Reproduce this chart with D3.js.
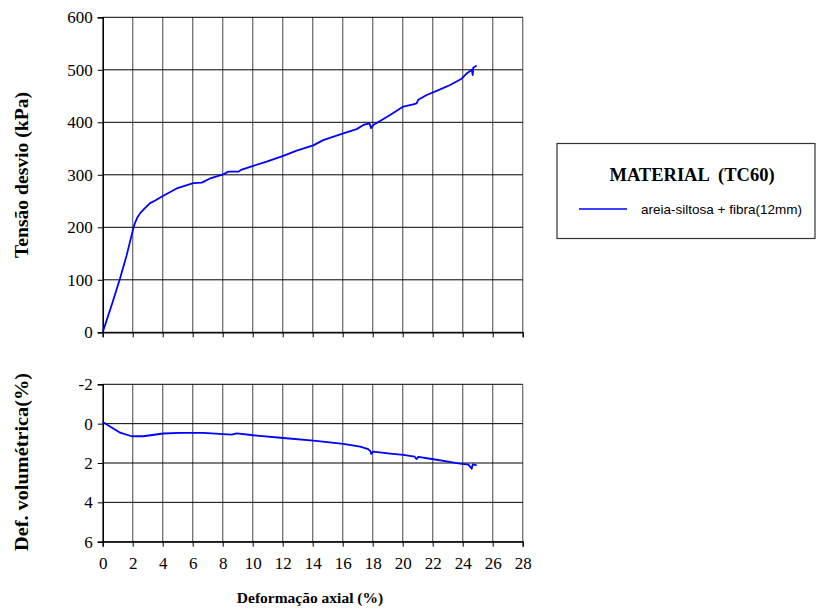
<!DOCTYPE html>
<html>
<head>
<meta charset="utf-8">
<script src="https://cdn.jsdelivr.net/npm/d3@7"></script>
<style>
  body { margin: 0; background: #fff; }
  svg { display: block; }
</style>
</head>
<body>
<svg id="chart" width="817" height="611"></svg>
<script>
// Axial strain (%) and deviator stress (kPa)
const strainStress = [0, 0.6, 1.16, 1.6, 2.04, 2.15, 2.3, 2.5, 2.7, 2.9, 3.16, 3.5, 4.04, 4.93, 6.04, 6.6, 7.16, 8.04, 8.38, 9.04, 9.27, 10.04, 10.93, 12.04, 12.93, 14.04, 14.7, 16.04, 16.93, 17.38, 17.78, 17.9, 18.04, 19.16, 20.04, 20.7, 20.93, 21.04, 21.6, 22.27, 23.16, 23.93, 24.27, 24.6, 24.67, 24.7, 24.93];
const stress = [0, 52, 103, 147, 198, 208, 218, 227, 233, 239, 246, 251, 260, 274, 284, 285, 293, 301, 306, 306, 310, 317, 325, 336, 346, 356, 366, 379, 387, 395, 398, 389, 395, 414, 430, 434, 436, 443, 452, 460, 471, 483, 493, 500, 490, 504, 508];

// Axial strain (%) and volumetric strain (%)
const strainVol = [0, 0.49, 1.16, 1.93, 2.7, 4.04, 5.16, 6.7, 8.04, 8.6, 8.93, 10.04, 12.04, 14.04, 16.04, 17.16, 17.7, 17.87, 17.9, 18.04, 19.16, 20.04, 20.8, 20.93, 21.04, 22.04, 22.93, 23.82, 24.38, 24.6, 24.67, 24.93];
const volStrain = [-0.08, 0.15, 0.46, 0.64, 0.64, 0.5, 0.47, 0.47, 0.53, 0.56, 0.49, 0.59, 0.73, 0.86, 1.03, 1.17, 1.29, 1.42, 1.54, 1.42, 1.52, 1.59, 1.68, 1.8, 1.69, 1.81, 1.92, 2.03, 2.08, 2.29, 2.07, 2.12];

const xTicks = [0, 2, 4, 6, 8, 10, 12, 14, 16, 18, 20, 22, 24, 26, 28];
const stressTicks = [0, 100, 200, 300, 400, 500, 600];
const volTicks = [-2, 0, 2, 4, 6];

const legendTitle = "MATERIAL  (TC60)";
const seriesName = "areia-siltosa + fibra(12mm)";
const xTitle = "Deformação axial (%)";
const stressTitle = "Tensão desvio (kPa)";
const volTitle = "Def. volumétrica(%)";

const svg = d3.select("#chart");
const serif = "'Liberation Serif', 'Times New Roman', serif";
const sans = "'Liberation Sans', Arial, sans-serif";
const lineColor = "#0000ff";
const tickFont = 17;

const left = 102.7, right = 522.7;
const x = d3.scaleLinear().domain([0, 28]).range([left, right]);

function panel(yDomain, yRange, ticks, xs, ys, showXLabels) {
  const y = d3.scaleLinear().domain(yDomain).range(yRange);
  const g = svg.append("g");
  const top = Math.min(...yRange), bottom = Math.max(...yRange);

  // vertical grid lines (grey)
  g.selectAll(".vg").data(xTicks.filter(d => d > 0)).enter().append("line")
    .attr("x1", d => x(d)).attr("x2", d => x(d))
    .attr("y1", top).attr("y2", bottom)
    .attr("stroke", "#707070").attr("stroke-width", 1.3);

  // horizontal grid lines (black)
  g.selectAll(".hg").data(ticks).enter().append("line")
    .attr("x1", left).attr("x2", right)
    .attr("y1", d => y(d)).attr("y2", d => y(d))
    .attr("stroke", "#000").attr("stroke-width", 1);

  // y axis
  const yAxis = d3.axisLeft(y).tickValues(ticks).tickSize(5).tickPadding(5)
    .tickFormat(d => String(d));
  const ya = g.append("g").attr("transform", `translate(${left},0)`).call(yAxis);
  ya.attr("font-family", null).attr("font-size", null);
  ya.select(".domain").attr("stroke", "#000").attr("stroke-width", 1.6);
  ya.selectAll(".tick line").attr("stroke", "#000");
  ya.selectAll("text").style("font-family", serif).style("font-size", tickFont + "px").attr("fill", "#000");

  // x axis
  const xAxis = d3.axisBottom(x).tickValues(xTicks).tickSize(5).tickPadding(10)
    .tickFormat(d => showXLabels ? String(d) : "");
  const xa = g.append("g").attr("transform", `translate(0,${bottom})`).call(xAxis);
  xa.attr("font-family", null).attr("font-size", null);
  xa.select(".domain").attr("stroke", "#000").attr("stroke-width", 1.2);
  xa.selectAll(".tick line").attr("stroke", "#000");
  xa.selectAll("text").style("font-family", serif).style("font-size", tickFont + "px").attr("fill", "#000");

  const line = d3.line().x((d, i) => x(xs[i])).y((d, i) => y(ys[i]));
  g.append("path").datum(ys)
    .attr("d", line)
    .attr("fill", "none")
    .attr("stroke", lineColor)
    .attr("stroke-width", 1.8)
    .attr("stroke-linejoin", "round");
  return y;
}

panel([0, 600], [332.3, 17.3], stressTicks, strainStress, stress, false);
panel([-2, 6], [384.3, 541.7], volTicks, strainVol, volStrain, true);

// axis titles
svg.append("text")
  .attr("transform", "translate(28,175) rotate(-90)")
  .attr("text-anchor", "middle")
  .attr("textLength", 166).attr("lengthAdjust", "spacingAndGlyphs")
  .style("font-family", serif).style("font-weight", "bold").style("font-size", "18px")
  .text(stressTitle);

svg.append("text")
  .attr("transform", "translate(28,462) rotate(-90)")
  .attr("text-anchor", "middle")
  .attr("textLength", 178).attr("lengthAdjust", "spacingAndGlyphs")
  .style("font-family", serif).style("font-weight", "bold").style("font-size", "18px")
  .text(volTitle);

svg.append("text")
  .attr("x", 310).attr("y", 603)
  .attr("text-anchor", "middle")
  .style("font-family", serif).style("font-weight", "bold").style("font-size", "15.5px")
  .text(xTitle);

// legend
const lg = svg.append("g");
lg.append("rect")
  .attr("x", 557).attr("y", 143.5).attr("width", 258).attr("height", 95)
  .attr("fill", "#fff").attr("stroke", "#333").attr("stroke-width", 1.2);
lg.append("text")
  .attr("x", 692).attr("y", 181)
  .attr("text-anchor", "middle")
  .attr("xml:space", "preserve")
  .style("white-space", "pre")
  .style("font-family", serif).style("font-weight", "bold").style("font-size", "18.5px")
  .text(legendTitle);
lg.append("line")
  .attr("x1", 579).attr("x2", 627).attr("y1", 209).attr("y2", 209)
  .attr("stroke", lineColor).attr("stroke-width", 1.4);
lg.append("text")
  .attr("x", 641).attr("y", 214)
  .style("font-family", sans).style("font-size", "13.5px")
  .text(seriesName);
</script>
</body>
</html>
